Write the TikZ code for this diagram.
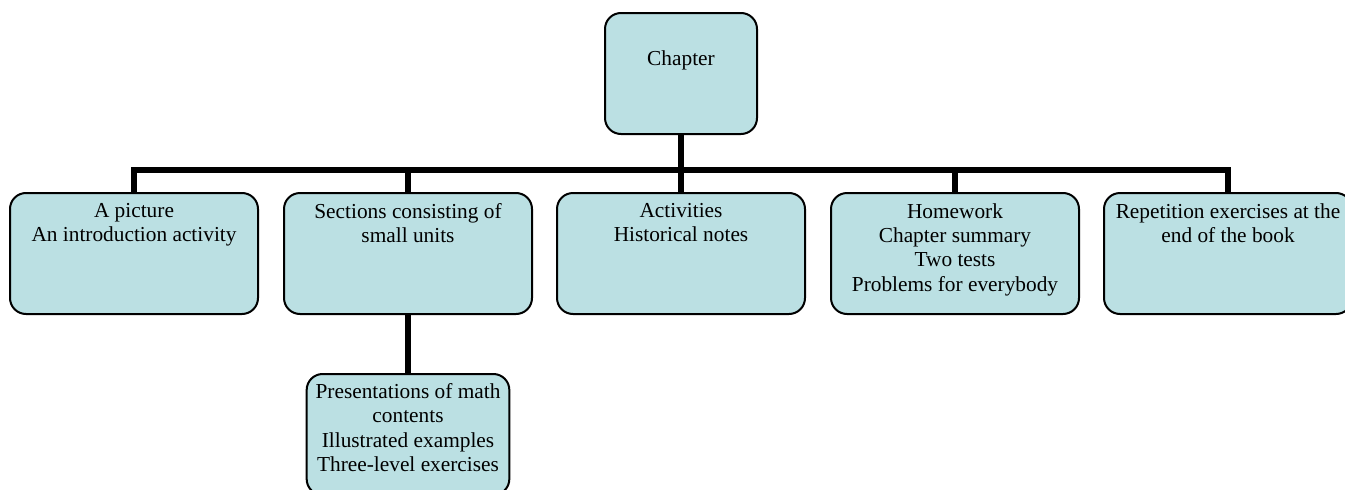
\documentclass[tikz,border=0pt]{standalone}
\usepackage{fontspec}
\setmainfont{Liberation Serif}
\usetikzlibrary{calc}
\definecolor{boxblue}{RGB}{187,224,227}

\tikzset{
    unit/.style={draw=black,line width=1.5pt,fill=boxblue,rounded corners=12pt,
        minimum width=186pt,minimum height=90.75pt,inner sep=0pt},
    unittext/.style={anchor=north,align=center,inner sep=0pt,
        font=\fontsize{16}{18.3}\selectfont,execute at begin node=\strut},
    link/.style={line width=4.5pt}
}

\begin{document}
\begin{tikzpicture}[x=0.75pt,y=-0.75pt]

    % Page is 1345 x 489 px, y goes down.
    \clip (0,0) rectangle (1345,489);

    % Top box.
    \node[unit,minimum width=114pt] (chap) at (681,73.5) {};
    \node[unittext] (chapT) at ($(chap.north)+(0,36)$) {Chapter};

    % Row of boxes.
    \node[unit] (pic) at (134,253.5) {};
    \node[unit] (sec) at (408,253.5) {};
    \node[unit] (act) at (681,253.5) {};
    \node[unit] (hw)  at (955,253.5) {};
    \node[unit] (rep) at (1228,253.5) {};
    \node[unittext] (picT) at ($(pic.north)+(0,11)$) {A picture\\An introduction activity};
    \node[unittext] (secT) at ($(sec.north)+(0,11)$) {Sections consisting of\\small units};
    \node[unittext] (actT) at ($(act.north)+(0,11)$) {Activities\\Historical notes};
    \node[unittext] (hwT)  at ($(hw.north)+(0,11)$) {Homework\\Chapter summary\\Two tests\\Problems for everybody};
    \node[unittext] (repT) at ($(rep.north)+(0,11)$) {Repetition exercises at the\\end of the book};

    % Box under sections.
    \node[unit,minimum width=152pt] (pres) at (408,434.5) {};
    \node[unittext] (presT) at ($(pres.north)+(0,10)$) {Presentations of math\\contents\\Illustrated examples\\Three-level exercises};

    % Bar and links.
    \coordinate (barY) at (0,170);
    \draw[link] (pic.north) -- (pic.north |- barY) -- (rep.north |- barY) -- (rep.north);
    \draw[link] (chap.south) -- (chap.south |- barY);
    \foreach \n in {sec,act,hw}
        \draw[link] (\n.north |- barY) -- (\n.north);
    \draw[link] (sec.south) -- (pres.north);

\end{tikzpicture}
\end{document}
